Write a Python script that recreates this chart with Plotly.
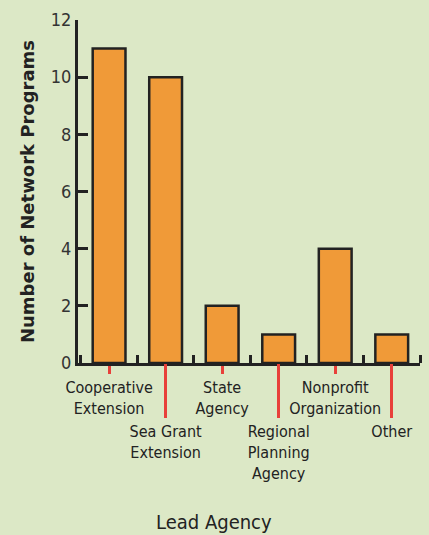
import plotly.graph_objects as go

categories = ["Cooperative<br>Extension", "Sea Grant<br>Extension", "State<br>Agency",
              "Regional<br>Planning<br>Agency", "Nonprofit<br>Organization", "Other"]
values = [11, 10, 2, 1, 4, 1]
y_ticks = [0, 2, 4, 6, 8, 10, 12]

idx = list(range(len(categories)))
even_idx = [i for i in idx if i % 2 == 0]
odd_idx = [i for i in idx if i % 2 == 1]

BG = "#dce8c6"
ORANGE = "#f09a38"
DARK = "#222222"
RED = "#e8403a"
FONT = "Liberation Sans Narrow, DejaVu Sans Condensed, sans-serif"

fig = go.Figure()
fig.add_trace(go.Bar(x=idx, y=values, width=0.58, marker=dict(color=ORANGE, line=dict(color=DARK, width=2.5)),
                     showlegend=False, hoverinfo="skip"))
fig.add_trace(go.Scatter(x=idx, y=values, xaxis="x2", mode="markers", marker=dict(opacity=0),
                         showlegend=False, hoverinfo="skip"))

xr = [-0.55, 5.5]
fig.update_layout(
    width=429, height=535,
    paper_bgcolor=BG, plot_bgcolor=BG,
    margin=dict(l=78, r=9, t=15, b=172),
    font=dict(family=FONT, color=DARK),
    xaxis=dict(range=xr, tickvals=even_idx, ticktext=[categories[i] for i in even_idx],
               ticks="outside", ticklen=8, tickwidth=2.5, tickcolor=RED,
               tickfont=dict(size=16, color=DARK), showline=True, linecolor=DARK, linewidth=3,
               showgrid=False, zeroline=False,
               minor=dict(tick0=-0.5, dtick=1, ticks="inside", ticklen=8, tickwidth=2.5, tickcolor=DARK)),
    xaxis2=dict(range=xr, overlaying="x", anchor="y", side="bottom",
                tickvals=odd_idx, ticktext=[categories[i] for i in odd_idx],
                ticks="outside", ticklen=54, tickwidth=2.5, tickcolor=RED,
                tickfont=dict(size=16, color=DARK), showline=False, showgrid=False, zeroline=False),
    yaxis=dict(range=[0, 12], tickvals=y_ticks, ticks="inside", ticklen=10, tickwidth=2.5, tickcolor=DARK,
               tickfont=dict(size=18, color="#333333"), showline=True, linecolor=DARK, linewidth=3,
               showgrid=False, zeroline=False,
               title=dict(text="Number of Network Programs", standoff=12,
                          font=dict(family="DejaVu Sans", size=18, color=DARK, weight="bold"))),
    annotations=[dict(text="Lead Agency", xref="paper", yref="paper", x=0.398, y=-0.505,
                      showarrow=False, font=dict(size=20, color=DARK))],
)

fig.write_html("out.html", config={"displayModeBar": False},
               post_script="document.body.style.margin='0';document.body.style.padding='0';")
